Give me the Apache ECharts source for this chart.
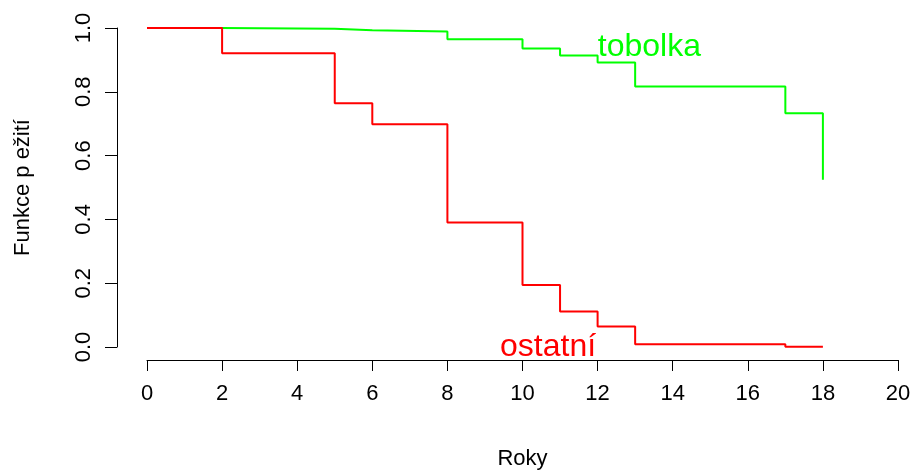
<!DOCTYPE html>
<html>
<head>
<meta charset="utf-8">
<script src="https://cdn.jsdelivr.net/npm/echarts@6/dist/echarts.min.js"></script>
<style>
html,body{margin:0;padding:0;background:#fff;}
#chart{width:913px;height:472px;}
</style>
</head>
<body>
<div id="chart"></div>
<script>
// Kaplan-Meier step data
var tobolkaTimes = [0, 2, 5, 6, 8, 10, 11, 12, 13, 17, 18];
var tobolkaSurv  = [1.0, 0.998, 0.993, 0.989, 0.965, 0.936, 0.914, 0.892, 0.817, 0.733, 0.524];
var ostatniTimes = [0, 2, 5, 6, 8, 10, 11, 12, 13, 17, 18];
var ostatniSurv  = [1.0, 0.921, 0.764, 0.698, 0.390, 0.194, 0.111, 0.064, 0.009, 0.001, 0.001];
var xTicks = [0, 2, 4, 6, 8, 10, 12, 14, 16, 18, 20];
var yTicks = [0.0, 0.2, 0.4, 0.6, 0.8, 1.0];
var seriesNames = ['tobolka', 'ostatní'];
var labelPos = { tobolka: [13.38, 0.94], 'ostatní': [10.68, 0.0] };

function pairs(t, s) { return t.map(function (v, i) { return [v, s[i]]; }); }

var FONT = 'Liberation Sans, Arial, Helvetica, sans-serif';
var chart = echarts.init(document.getElementById('chart'), null, { renderer: 'canvas' });

function mkSeries(name, times, surv, color) {
  return {
    name: name,
    type: 'line',
    step: 'end',
    data: pairs(times, surv),
    showSymbol: false,
    symbol: 'none',
    lineStyle: { color: color, width: 2 },
    itemStyle: { color: color },
    animation: false,
    markPoint: {
      symbol: 'circle',
      symbolSize: 1,
      itemStyle: { color: 'rgba(0,0,0,0)' },
      label: {
        show: true, position: 'inside', formatter: name,
        color: color, fontSize: 32, fontFamily: FONT
      },
      data: [{ coord: labelPos[name] }]
    }
  };
}

chart.setOption({
  backgroundColor: '#ffffff',
  animation: false,
  grid: { left: 147, right: 15, top: 28, bottom: 125, containLabel: false, outerBoundsMode: 'none' },
  xAxis: {
    type: 'value', min: 0, max: 20, interval: 2, offset: 13,
    name: 'Roky', nameLocation: 'middle', nameGap: 88,
    nameTextStyle: { fontSize: 22, color: '#000', fontFamily: FONT },
    axisLine: { show: true, onZero: false, lineStyle: { color: '#000', width: 1 } },
    axisTick: { show: true, length: 11, lineStyle: { color: '#000' } },
    axisLabel: { fontSize: 22, color: '#000', fontFamily: FONT, margin: 23,
      formatter: function (v) { return xTicks.indexOf(v) >= 0 ? String(v) : ''; } },
    splitLine: { show: false }
  },
  yAxis: {
    type: 'value', min: 0, max: 1, interval: 0.2, offset: 30,
    name: 'Funkce p ežití', nameLocation: 'middle', nameGap: 83, nameRotate: 90,
    nameTextStyle: { fontSize: 22, color: '#000', fontFamily: FONT },
    axisLine: { show: true, onZero: false, lineStyle: { color: '#000', width: 1 } },
    axisTick: { show: true, length: 12, lineStyle: { color: '#000' } },
    axisLabel: { fontSize: 22, color: '#000', fontFamily: FONT, rotate: 90, margin: 22,
      formatter: function (v) { return v.toFixed(1); } },
    splitLine: { show: false }
  },
  series: [
    mkSeries(seriesNames[0], tobolkaTimes, tobolkaSurv, '#00ff00'),
    mkSeries(seriesNames[1], ostatniTimes, ostatniSurv, '#ff0000')
  ]
});
</script>
</body>
</html>
